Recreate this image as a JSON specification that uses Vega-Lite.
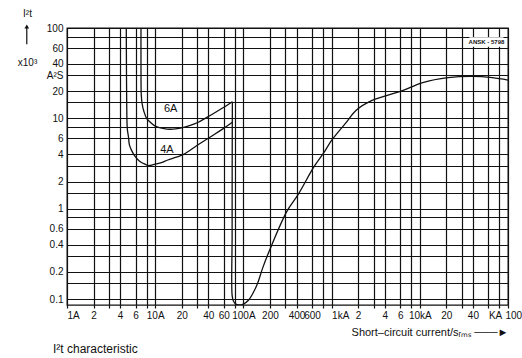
{
  "$schema": "https://vega.github.io/schema/vega-lite/v6.json",
  "width": 441,
  "height": 277,
  "autosize": {"type": "none"},
  "padding": {"left": 67, "top": 28, "right": 14, "bottom": 53},
  "background": "white",
  "title": {"text": "I²t characteristic", "orient": "bottom", "anchor": "start", "frame": "group", "dx": -14, "offset": 7, "fontSize": 12, "fontWeight": "normal", "font": "Liberation Sans", "color": "#111"},
  "config": {"view": {"stroke": "#111", "strokeWidth": 1.3}, "font": "Liberation Sans"},
  "datasets": {
    "curves": [
      {"series": "4A", "i": 0, "x": 4.7, "y": 100},
      {"series": "4A", "i": 1, "x": 4.72, "y": 40},
      {"series": "4A", "i": 2, "x": 4.75, "y": 15.7},
      {"series": "4A", "i": 3, "x": 4.83, "y": 7.6},
      {"series": "4A", "i": 4, "x": 4.97, "y": 6.3},
      {"series": "4A", "i": 5, "x": 5.1, "y": 5.1},
      {"series": "4A", "i": 6, "x": 5.38, "y": 4.45},
      {"series": "4A", "i": 7, "x": 5.8, "y": 3.9},
      {"series": "4A", "i": 8, "x": 6.6, "y": 3.38},
      {"series": "4A", "i": 9, "x": 7.45, "y": 3.15},
      {"series": "4A", "i": 10, "x": 8.4, "y": 3.0},
      {"series": "4A", "i": 11, "x": 9.5, "y": 3.07},
      {"series": "4A", "i": 12, "x": 11.5, "y": 3.22},
      {"series": "4A", "i": 13, "x": 13.9, "y": 3.46},
      {"series": "4A", "i": 14, "x": 17.4, "y": 3.72},
      {"series": "4A", "i": 15, "x": 21, "y": 4.0},
      {"series": "4A", "i": 16, "x": 30, "y": 5.03},
      {"series": "4A", "i": 17, "x": 43, "y": 6.3},
      {"series": "4A", "i": 18, "x": 58, "y": 7.6},
      {"series": "4A", "i": 19, "x": 75, "y": 9.05},
      {"series": "6A", "i": 0, "x": 6.9, "y": 100},
      {"series": "6A", "i": 1, "x": 6.9, "y": 42.4},
      {"series": "6A", "i": 2, "x": 6.95, "y": 18.3},
      {"series": "6A", "i": 3, "x": 7.1, "y": 14.6},
      {"series": "6A", "i": 4, "x": 7.45, "y": 11.9},
      {"series": "6A", "i": 5, "x": 8.0, "y": 10},
      {"series": "6A", "i": 6, "x": 8.8, "y": 9.05},
      {"series": "6A", "i": 7, "x": 10, "y": 8.2},
      {"series": "6A", "i": 8, "x": 11.5, "y": 7.85},
      {"series": "6A", "i": 9, "x": 13.6, "y": 7.6},
      {"series": "6A", "i": 10, "x": 16, "y": 7.6},
      {"series": "6A", "i": 11, "x": 20, "y": 7.85},
      {"series": "6A", "i": 12, "x": 24.5, "y": 8.3},
      {"series": "6A", "i": 13, "x": 30.8, "y": 9.05},
      {"series": "6A", "i": 14, "x": 43, "y": 10.9},
      {"series": "6A", "i": 15, "x": 58, "y": 13},
      {"series": "6A", "i": 16, "x": 75, "y": 15.3},
      {"series": "main", "i": 0, "x": 75, "y": 15.3},
      {"series": "main", "i": 1, "x": 74.6, "y": 3},
      {"series": "main", "i": 2, "x": 74.5, "y": 0.5},
      {"series": "main", "i": 3, "x": 74.5, "y": 0.11},
      {"series": "main", "i": 4, "x": 77, "y": 0.095},
      {"series": "main", "i": 5, "x": 82, "y": 0.088},
      {"series": "main", "i": 6, "x": 89, "y": 0.086},
      {"series": "main", "i": 7, "x": 100, "y": 0.088},
      {"series": "main", "i": 8, "x": 114, "y": 0.097},
      {"series": "main", "i": 9, "x": 130, "y": 0.119},
      {"series": "main", "i": 10, "x": 145, "y": 0.15},
      {"series": "main", "i": 11, "x": 166, "y": 0.223},
      {"series": "main", "i": 12, "x": 198, "y": 0.347},
      {"series": "main", "i": 13, "x": 310, "y": 0.93},
      {"series": "main", "i": 14, "x": 422, "y": 1.46},
      {"series": "main", "i": 15, "x": 632, "y": 2.92},
      {"series": "main", "i": 16, "x": 820, "y": 4.2},
      {"series": "main", "i": 17, "x": 1000, "y": 5.7},
      {"series": "main", "i": 18, "x": 1450, "y": 8.9},
      {"series": "main", "i": 19, "x": 1900, "y": 12.3},
      {"series": "main", "i": 20, "x": 2840, "y": 15.7},
      {"series": "main", "i": 21, "x": 6130, "y": 20},
      {"series": "main", "i": 22, "x": 10800, "y": 24.9},
      {"series": "main", "i": 23, "x": 21000, "y": 28.2},
      {"series": "main", "i": 24, "x": 39000, "y": 29.1},
      {"series": "main", "i": 25, "x": 66500, "y": 28.2},
      {"series": "main", "i": 26, "x": 100000, "y": 26.5}
    ],
    "labels": [
      {"x": 15, "y": 12.6, "text": "6A"},
      {"x": 13.6, "y": 4.52, "text": "4A"}
    ],
    "note": [
      {"x": 57000, "y": 70, "x2": 36500, "x3": 89000, "y2": 62, "y3": 79, "text": "ANSK - 5798"}
    ],
    "arrow": [
      {"x": 0.35, "y": 66, "y2": 104}
    ]
  },
  "encoding": {
    "x": {
      "field": "x", "type": "quantitative",
      "scale": {"type": "log", "domain": [1, 100000], "nice": false},
      "axis": {
        "values": [1,2,3,4,6,8,10,20,30,40,60,80,100,200,300,400,600,800,1000,2000,3000,4000,6000,8000,10000,20000,30000,40000,60000,80000,100000],
        "grid": true, "gridColor": "#111", "gridWidth": 1.2, "gridOpacity": 1,
        "domain": false, "ticks": true, "tickSize": 3, "tickColor": "#111", "tickWidth": 1.2,
        "labelExpr": "datum.value==1?'1A':datum.value==10?'10A':datum.value==100?'100A':datum.value==1000?'1kA':datum.value==10000?'10kA':datum.value==60000?'KA':datum.value==100000?'100':indexof([2,4,6,20,40,60,200,400,600],datum.value)>=0?format(datum.value,'d'):indexof([2000,4000,6000,20000,40000],datum.value)>=0?format(datum.value/1000,'d'):''",
        "labelFlush": false, "labelOverlap": false, "labelBound": false,
        "labelFontSize": 10, "labelColor": "#111", "labelPadding": 2, "labelFont": "Liberation Sans",
        "labelAlign": {"condition": {"test": "datum.value == 1 || datum.value == 1000 || datum.value == 60000 || datum.value == 100000", "value": "left"}, "value": "center"},
        "labelOffset": {"condition": {"test": "datum.value == 100000", "value": -3}, "value": 0},
        "title": "Short–circuit current/sᵣₘₛ ───►",
        "titleX": 441, "titleY": 27, "titleAlign": "right", "titleBaseline": "middle", "titleAnchor": "end",
        "titleFontSize": 11, "titleFontWeight": "normal", "titleColor": "#111", "titleFont": "Liberation Sans"
      }
    },
    "y": {
      "field": "y", "type": "quantitative",
      "scale": {"type": "log", "domain": [0.086, 100], "nice": false},
      "axis": {
        "values": [0.1,0.15,0.2,0.3,0.4,0.6,0.8,1,1.5,2,3,4,6,8,10,15,20,30,40,60,80,100],
        "grid": true, "gridColor": "#111", "gridWidth": 1.2, "gridOpacity": 1,
        "domain": false, "ticks": false, "tickSize": 0,
        "labelExpr": "datum.value==30?'A²S':indexof([0.15,0.3,0.8,1.5,3,8,15,80],datum.value)>=0?'':format(datum.value,'~g')",
        "labelOverlap": false, "labelBound": false, "labelFlush": false,
        "labelFontSize": 10, "labelColor": "#111", "labelPadding": 4, "labelFont": "Liberation Sans",
        "title": ["I²t", "x10³"],
        "titleAngle": 0, "titleX": -40, "titleY": -20, "titleAlign": "center", "titleBaseline": "top",
        "titleLineHeight": 49, "titleFontSize": 10, "titleFontWeight": "normal", "titleColor": "#111", "titleFont": "Liberation Sans"
      }
    }
  },
  "layer": [
    {
      "data": {"name": "curves"},
      "mark": {"type": "line", "color": "#111", "strokeWidth": 1.3, "clip": true, "interpolate": "catmull-rom"},
      "encoding": {
        "detail": {"field": "series", "type": "nominal"},
        "order": {"field": "i", "type": "quantitative"}
      }
    },
    {
      "data": {"name": "labels"},
      "mark": {"type": "text", "fontSize": 11, "color": "#111", "align": "center", "baseline": "middle", "font": "Liberation Sans"},
      "encoding": {"text": {"field": "text", "type": "nominal"}}
    },
    {
      "data": {"name": "note"},
      "mark": {"type": "rect", "color": "white"},
      "encoding": {
        "x": {"field": "x2", "type": "quantitative"},
        "x2": {"field": "x3"},
        "y": {"field": "y2", "type": "quantitative"},
        "y2": {"field": "y3"}
      }
    },
    {
      "data": {"name": "note"},
      "mark": {"type": "text", "fontSize": 6, "fontWeight": "bold", "color": "#111", "align": "center", "baseline": "middle", "font": "Liberation Sans"},
      "encoding": {"text": {"field": "text", "type": "nominal"}}
    },
    {
      "data": {"name": "arrow"},
      "mark": {"type": "rule", "color": "#111", "strokeWidth": 1.2, "clip": false},
      "encoding": {
        "y2": {"field": "y2"}
      }
    },
    {
      "data": {"name": "arrow"},
      "mark": {"type": "point", "shape": "triangle-up", "filled": true, "color": "#111", "size": 22, "opacity": 1, "clip": false},
      "encoding": {
        "y": {"field": "y2", "type": "quantitative"}
      }
    }
  ]
}
